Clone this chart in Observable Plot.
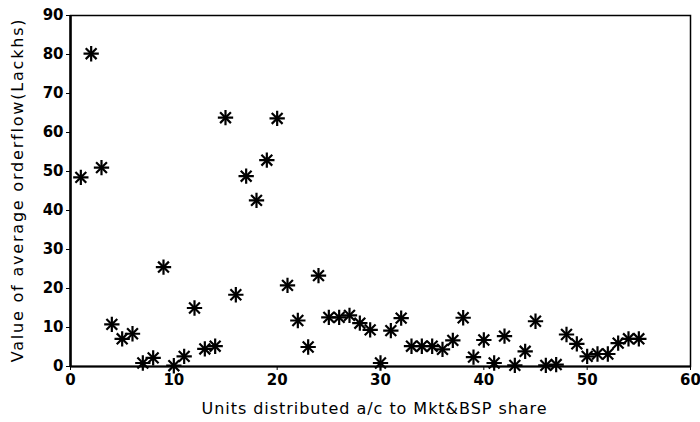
<!DOCTYPE html>
<html>
<head>
<meta charset="utf-8">
<script src="https://cdn.jsdelivr.net/npm/d3@7"></script>
<script src="https://cdn.jsdelivr.net/npm/@observablehq/plot@0.6"></script>
<style>
  html, body { margin: 0; padding: 0; background: #fff; }
  #chart svg { display: block; }
  .xlab text { letter-spacing: 0.95px; }
  .ylab text { letter-spacing: 1.8px; }
</style>
</head>
<body>
<div id="chart"></div>
<script>
const units = [1,2,3,4,5,6,7,8,9,10,11,12,13,14,15,16,17,18,19,20,21,22,23,24,25,26,27,28,29,30,31,32,33,34,35,36,37,38,39,40,41,42,43,44,45,46,47,48,49,50,51,52,53,54,55];
const orderflow = [48.5,80.2,51,10.8,7.1,8.4,0.9,2.2,25.5,0.2,2.6,15,4.5,5.2,63.8,18.4,48.8,42.6,52.9,63.6,20.8,11.8,5,23.3,12.6,12.6,13.1,11.1,9.4,0.9,9.2,12.4,5.2,5.2,5.2,4.4,6.7,12.5,2.4,6.8,0.9,7.8,0.3,3.9,11.6,0.3,0.5,8.2,5.8,2.6,3.2,3.2,6.0,7.1,7.1];
const xTicks = [0,10,20,30,40,50,60];
const yTicks = [0,10,20,30,40,50,60,70,80,90];

const data = units.map((u, i) => ({u, v: orderflow[i]}));
const font = "DejaVu Sans";

const chart = Plot.plot({
  width: 700,
  height: 422,
  marginLeft: 70,
  marginRight: 10,
  marginTop: 15,
  marginBottom: 56,
  style: {fontFamily: font, fontSize: "14px", fontWeight: "bold", color: "#000", background: "#fff"},
  x: {domain: [0, 60], ticks: xTicks},
  y: {domain: [0, 90], ticks: yTicks},
  marks: [
    Plot.frame({stroke: "#000", strokeWidth: 1.5}),
    Plot.ruleX([0], {stroke: "#000", strokeWidth: 2.5}),
    Plot.ruleY([0], {stroke: "#000", strokeWidth: 2}),
    Plot.axisX({ticks: xTicks, tickSize: 4, tickPadding: 4, label: null, fontSize: 15, fontWeight: "bold"}),
    Plot.axisY({ticks: yTicks, tickSize: 4, tickPadding: 3, label: null, fontSize: 15, fontWeight: "bold"}),
    Plot.text(["Units distributed a/c to Mkt&BSP share"], {className: "xlab", frameAnchor: "bottom", dy: 47, dx: -6, fontSize: 16, fontWeight: "normal"}),
    Plot.text(["Value of average orderflow(Lackhs)"], {className: "ylab", frameAnchor: "left", textAnchor: "middle", rotate: -90, dx: -53, dy: -1, fontSize: 16, fontWeight: "normal"}),
    Plot.dot(data, {x: "u", y: "v", symbol: "plus", r: 5, stroke: "#000", strokeWidth: 2.2}),
    Plot.dot(data, {x: "u", y: "v", symbol: "times", r: 5, stroke: "#000", strokeWidth: 2.2})
  ]
});
document.getElementById("chart").append(chart);
</script>
</body>
</html>
